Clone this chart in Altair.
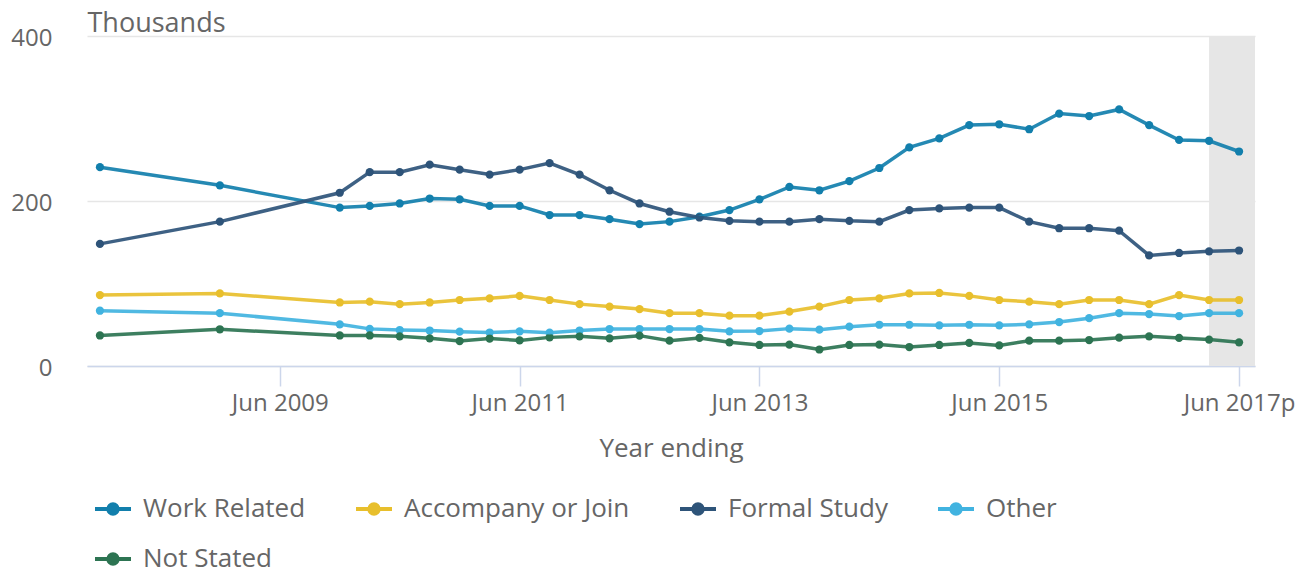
import altair as alt
import pandas as pd

periods = ["Dec 2007", "Dec 2008", "Dec 2009", "Mar 2010", "Jun 2010", "Sep 2010", "Dec 2010",
           "Mar 2011", "Jun 2011", "Sep 2011", "Dec 2011", "Mar 2012", "Jun 2012", "Sep 2012",
           "Dec 2012", "Mar 2013", "Jun 2013", "Sep 2013", "Dec 2013", "Mar 2014", "Jun 2014",
           "Sep 2014", "Dec 2014", "Mar 2015", "Jun 2015", "Sep 2015", "Dec 2015", "Mar 2016",
           "Jun 2016", "Sep 2016", "Dec 2016", "Mar 2017", "Jun 2017"]

work_related = [241, 219, 192, 194, 197, 203, 202, 194, 194, 183, 183, 178, 172, 175, 181, 189, 202,
                217, 213, 224, 240, 265, 276, 292, 293, 287, 306, 303, 311, 292, 274, 273, 260]
accompany_or_join = [86, 88, 77, 78, 75, 77, 80, 82, 85, 80, 75, 72, 69, 64, 64, 61, 61, 66, 72, 80,
                     82, 88, 88.5, 85, 80, 78, 75, 80, 80, 75, 86, 80, 80]
formal_study = [148, 175, 210, 235, 235, 244, 238, 232, 238, 246, 232, 213, 197, 187, 180, 176, 175,
                175, 178, 176, 175, 189, 191, 192, 192, 175, 167, 167, 164, 134, 137, 139, 140]
other = [67, 64, 50.5, 45, 43.6, 43, 41.6, 40.6, 42, 40.4, 43, 44.8, 44.8, 44.8, 44.8, 42, 42.4, 45.3,
         44, 47.7, 50, 50, 49.3, 50, 49.3, 50.5, 53.3, 58, 64, 63, 60.6, 64, 64]
not_stated = [37, 44.5, 37, 37, 36, 33.5, 30.3, 33.3, 31, 34.7, 36, 33.5, 36.8, 30.7, 34, 28.7, 25.5,
              26, 20, 25.5, 26, 23, 25.5, 28, 25, 30.7, 30.7, 31.5, 34.3, 36, 34, 32, 28.7]

series_names = ["Work Related", "Accompany or Join", "Formal Study", "Other", "Not Stated"]
series_values = [work_related, accompany_or_join, formal_study, other, not_stated]
series_colors = ["#127FAC", "#E8BF2C", "#2E5479", "#41B3E0", "#2D7452"]

tick_values = [2009.5, 2011.5, 2013.5, 2015.5, 2017.5]
y_ticks = [0, 200, 400]
x_domain = [2007.892, 2017.633]
provisional_start = "Mar 2017"

MONTHS = {"Mar": 3, "Jun": 6, "Sep": 9, "Dec": 12}


def to_num(p):
    m, y = p.split()
    return int(y) + MONTHS[m] / 12.0


rows = []
for name, vals in zip(series_names, series_values):
    for p, v in zip(periods, vals):
        rows.append({"period": p, "t": to_num(p), "series": name, "value": v})
df = pd.DataFrame(rows)

band = pd.DataFrame({"start": [to_num(provisional_start)], "end": [x_domain[1]]})

FONT = "Open Sans"
GREY = "#666666"

x_enc = alt.X(
    "t:Q",
    scale=alt.Scale(domain=x_domain, nice=False, zero=False),
    axis=alt.Axis(
        values=tick_values,
        labelExpr="datum.value == 2017.5 ? 'Jun 2017p' : 'Jun ' + floor(datum.value)",
        title="Year ending",
        titleFont=FONT, titleFontSize=26, titleFontWeight="normal", titleColor=GREY,
        titleX=584, titleY=90, titleBaseline="alphabetic", titleAlign="center",
        labelFont=FONT, labelFontSize=24, labelColor=GREY, labelPadding=5,
        labelFlush=False, labelOverlap=False,
        domainColor="#CCD6EB", domainWidth=1.5, tickColor="#CCD6EB", tickSize=20, tickWidth=1.5,
        grid=False,
    ),
)

y_enc = alt.Y(
    "value:Q",
    scale=alt.Scale(domain=[0, 400], nice=False),
    axis=alt.Axis(
        values=y_ticks,
        title="Thousands",
        titleFont=FONT, titleFontSize=27, titleFontWeight="normal", titleColor=GREY,
        titleAngle=0, titleX=0, titleY=-5, titleAlign="left", titleBaseline="alphabetic",
        labelFont=FONT, labelFontSize=24, labelColor=GREY, labelPadding=35, labelOffset=2,
        ticks=False, domain=False,
        grid=True, gridColor="#E6E6E6", gridWidth=1.5,
    ),
)

legend_path = ("M-1,0L1,0M-0.26,0A0.26,0.26 0 1,0 0.26,0A0.26,0.26 0 1,0 -0.26,0Z")

color_enc = alt.Color(
    "series:N",
    scale=alt.Scale(domain=series_names, range=series_colors),
    legend=alt.Legend(
        orient="none", legendX=6, legendY=453, direction="horizontal", columns=4,
        title=None, symbolType=legend_path, symbolSize=1296, symbolStrokeWidth=4,
        labelFont=FONT, labelFontSize=26, labelColor=GREY, labelOffset=10, labelLimit=500,
        columnPadding=42, rowPadding=17,
    ),
)

band_layer = alt.Chart(band).mark_rect(color="#E6E6E6").encode(
    x="start:Q", x2="end:Q", y=alt.value(0), y2=alt.value(330)
)

points = alt.Chart(df).mark_circle(size=68, opacity=1).encode(
    x=x_enc, y=y_enc, color=color_enc
)
lines = alt.Chart(df).mark_line(strokeWidth=3.5, opacity=0.92).encode(
    x="t:Q", y="value:Q", color="series:N", order="t:Q"
)

chart = alt.layer(band_layer, points, lines).properties(
    width=1168, height=330,
    background="white",
    autosize=alt.AutoSizeParams(type="none"),
    padding={"left": 87, "top": 36, "right": 54, "bottom": 209},
).configure_view(strokeWidth=0, stroke=None)

chart.save("out.html", embed_options={"renderer": "svg", "actions": False})
